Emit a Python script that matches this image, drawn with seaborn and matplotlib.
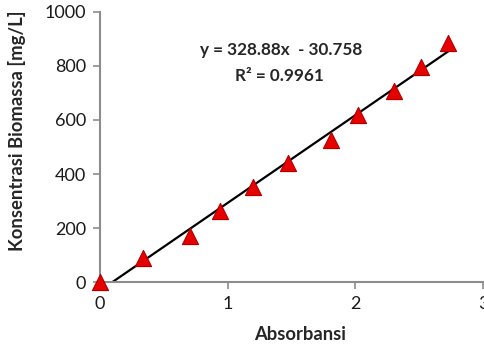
import numpy as np
import pandas as pd
import matplotlib
matplotlib.use("Agg")
import matplotlib.pyplot as plt
import seaborn as sns

absorbansi = [0.0, 0.339, 0.702, 0.937, 1.198, 1.475, 1.81, 2.02, 2.30, 2.516, 2.727]
konsentrasi = [0, 90, 172, 265, 353, 442, 527, 620, 708, 797, 884]
eq_text = "y = 328.88x  - 30.758"
r2_text = "R² = 0.9961"
x_ticks = [0, 1, 2, 3]
y_ticks = [0, 200, 400, 600, 800, 1000]

sns.set_theme(style="ticks")
plt.rcParams['font.family'] = ['Lato', 'DejaVu Sans']

df = pd.DataFrame({"Absorbansi": absorbansi, "Konsentrasi": konsentrasi})

fig = plt.figure(figsize=(4.85, 3.44), dpi=100)
ax = fig.add_axes([100/485, (344-282.3)/344, 383/485, (282.3-11.8)/344])

# trend line from least squares fit
slope, intercept = np.polyfit(df["Absorbansi"], df["Konsentrasi"], 1)
x0 = -intercept / slope
xs = np.array([x0, max(absorbansi)])
ax.plot(xs, slope * xs + intercept, color="black", lw=1.6, zorder=2)

sns.scatterplot(data=df, x="Absorbansi", y="Konsentrasi", ax=ax, marker="^",
                s=135, color="#e60000", edgecolor="#b00000", linewidth=0.8,
                zorder=3, clip_on=False)

ax.set_xlim(0, 3)
ax.set_ylim(0, 1000)
ax.set_xticks(x_ticks)
ax.set_yticks(y_ticks)
ax.tick_params(axis="both", direction="out", length=5, width=1.2, color="#8c8c8c",
               labelsize=13, labelcolor="#1a1a1a", pad=5)
for s in ["top", "right"]:
    ax.spines[s].set_visible(False)
for s in ["left", "bottom"]:
    ax.spines[s].set_color("#8c8c8c")
    ax.spines[s].set_linewidth(1.5)

ax.set_xlabel("")
ax.set_ylabel("")
fig.text(300/485, 1 - 334/344, "Absorbansi", ha="center", va="center",
         fontsize=13.2, fontweight="bold")
fig.text(17/485, 1 - 131/344, "Konsentrasi Biomassa [mg/L]", ha="center", va="center",
         rotation=90, fontsize=13.3, fontweight="bold")

ax.text(1.415, 857, eq_text, ha="center", va="center", fontsize=12.3, fontweight="bold")
ax.text(1.408, 764, r2_text, ha="center", va="center", fontsize=12.3, fontweight="bold")

fig.savefig("out.png", dpi=100)
